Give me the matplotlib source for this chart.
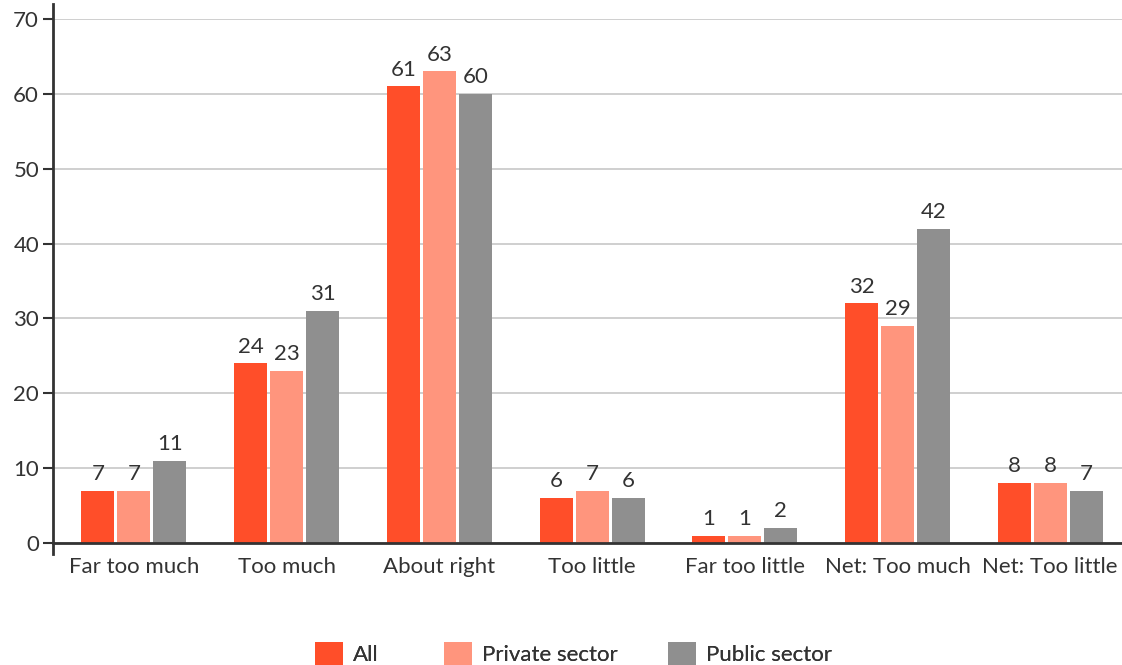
import matplotlib
matplotlib.use("Agg")
import matplotlib.pyplot as plt
from matplotlib.patches import Patch
import numpy as np

categories = ["Far too much", "Too much", "About right", "Too little",
              "Far too little", "Net: Too much", "Net: Too little"]
series_names = ["All", "Private sector", "Public sector"]
all_vals = [7, 24, 61, 6, 1, 32, 8]
private_vals = [7, 23, 63, 7, 1, 29, 8]
public_vals = [11, 31, 60, 6, 2, 42, 7]
yticks = [0, 10, 20, 30, 40, 50, 60, 70]

colors = ["#FF4E29", "#FF957D", "#8F8F8F"]
text_color = "#333333"

plt.rcParams["font.family"] = ["Lato", "DejaVu Sans"]
fs = 16

W, H = 1122, 665
fig = plt.figure(figsize=(W / 100, H / 100), dpi=100)
ax = fig.add_axes([53 / W, 1 - 543 / H, (W - 53) / W, (543 - 19) / H])

x = np.arange(len(categories))
width = 0.216
step = 0.236
for i, (vals, c) in enumerate(zip([all_vals, private_vals, public_vals], colors)):
    pos = x + (i - 1) * step
    bars = ax.bar(pos, vals, width=width, color=c, zorder=3)
    for b, v in zip(bars, vals):
        ax.text(b.get_x() + b.get_width() / 2, v + 0.9, str(v), ha="center",
                va="bottom", fontsize=fs, color=text_color, zorder=4)

ax.set_xlim(-0.53, 6.47)
ax.set_ylim(0, 70)
ax.set_yticks(yticks)
ax.set_xticks(x)
ax.set_xticklabels(categories)
ax.tick_params(axis="y", labelsize=fs, colors=text_color, length=7, width=1.5, pad=3)
ax.tick_params(axis="x", labelsize=fs, colors=text_color, length=0, pad=10)
ax.grid(axis="y", color="#cccccc", linewidth=1.3, zorder=0)
for s in ["top", "right"]:
    ax.spines[s].set_visible(False)
ax.spines["left"].set_color(text_color)
ax.spines["left"].set_linewidth(2)
ax.spines["left"].set_bounds(-1.5, 72)
ax.spines["bottom"].set_color(text_color)
ax.spines["bottom"].set_linewidth(2)
ax.spines["left"].set_zorder(5)
ax.spines["bottom"].set_zorder(5)

# Legend entries placed individually along the bottom
legend_left_px = [315, 444, 668]
for name, c, lx in zip(series_names, colors, legend_left_px):
    leg = fig.legend(handles=[Patch(facecolor=c, label=name)], loc="center left",
                     bbox_to_anchor=(lx / W, 1 - 654 / H), frameon=False,
                     fontsize=fs, handlelength=1.26, handleheight=1.26,
                     handletextpad=0.45, borderpad=0, borderaxespad=0,
                     labelcolor=text_color)
    fig.add_artist(leg)

fig.savefig("out.png", dpi=100)
